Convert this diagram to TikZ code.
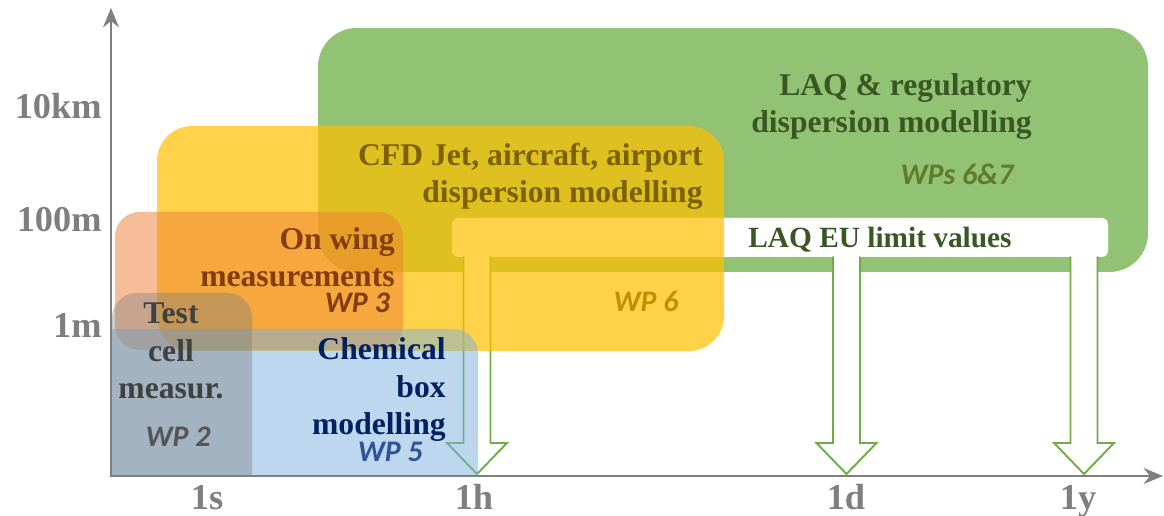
\documentclass[tikz,border=0pt]{standalone}
\usepackage{fontspec}
\setmainfont{Liberation Serif}
\newfontfamily\wpfont{Carlito}
\usepackage{xcolor}
\usepackage{tikz}
\usetikzlibrary{arrows.meta}

\begin{document}
\begin{tikzpicture}[
      % un'unita' = 0.02cm, asse y rivolto verso il basso
      x=0.02cm,
      y=-0.02cm,
      line join=round,
      line cap=round
  ]

  \useasboundingbox (0,0) rectangle (1164,516);

  % Posizione degli assi
  \def\ax{111}
  \def\ay{476}

  % Palette
  \definecolor{axisgray}{RGB}{127, 127, 127}
  \definecolor{laqfill}{RGB}{146, 195, 116}
  \definecolor{laqtext}{RGB}{56, 87, 35}
  \definecolor{laqwp}{RGB}{96, 122, 46}
  \definecolor{cfdfill}{RGB}{255, 192, 0}
  \definecolor{cfdtext}{RGB}{127, 96, 0}
  \definecolor{cfdwp}{RGB}{191, 144, 0}
  \definecolor{wingfill}{RGB}{237, 125, 49}
  \definecolor{wingtext}{RGB}{132, 60, 12}
  \definecolor{chemfill}{RGB}{123, 175, 221}
  \definecolor{chemtext}{RGB}{0, 32, 96}
  \definecolor{chemwp}{RGB}{47, 85, 151}
  \definecolor{testfill}{RGB}{127, 127, 127}
  \definecolor{testtext}{RGB}{64, 64, 64}
  \definecolor{testwp}{RGB}{85, 85, 85}
  \definecolor{arrowgreen}{RGB}{112, 173, 71}

  \tikzset{
      title/.style={font=\bfseries\fontsize{18}{21.5}\selectfont, inner sep=0pt, align=right},
      wp/.style={font=\wpfont\bfseries\itshape\fontsize{17}{20}\selectfont, inner sep=0pt},
      ticklabel/.style={font=\bfseries\fontsize{20.7}{24}\selectfont, text=axisgray, inner sep=0pt, text depth=0pt},
      axis/.style={draw=axisgray, line width=1.7pt, -{Stealth[length=11pt, width=9pt]}},
      limitarrow/.style={draw=arrowgreen, fill=white, line width=1.1pt, line join=miter}
  }

  % 1. Regioni (tagliate sugli assi)
  \begin{scope}
    \clip (\ax,0) rectangle (1164,\ay);

    \fill[laqfill, rounded corners=22pt] (318,28) rectangle (1148,272);

    % barra dei valori limite e frecce verso le scale temporali
    \fill[white, rounded corners=3.5pt] (452,218) rectangle (1108,257);
    \foreach \t in {477, 846.5, 1084} {
      \filldraw[limitarrow] (\t-13.5,257) -- (\t-13.5,443) -- (\t-30,443) -- (\t,474)
        -- (\t+30,443) -- (\t+13.5,443) -- (\t+13.5,257);
    }

    \fill[cfdfill, fill opacity=0.71, rounded corners=20pt] (157,126) rectangle (724,351);
    \fill[wingfill, fill opacity=0.5, rounded corners=14pt] (115,212) rectangle (403,350);
    \fill[chemfill, fill opacity=0.5, rounded corners=14pt] (90,329) rectangle (478,500);
    \fill[testfill, fill opacity=0.4, rounded corners=14pt] (112,293) rectangle (252,500);
  \end{scope}

  % 2. Assi
  \draw[axis] (\ax,\ay) -- (\ax,8);
  \draw[axis] (\ax,\ay) -- (1163,\ay);

  % Etichette degli assi
  \node[ticklabel, anchor=base east] (l10km) at (102,119) {10km};
  \node[ticklabel, anchor=base east] (l100m) at (102,232) {100m};
  \node[ticklabel, anchor=base east] (l1m)   at (102,338) {1m};
  \node[ticklabel, anchor=base] (t1s) at (207,510) {1s};
  \node[ticklabel, anchor=base] (t1h) at (474,510) {1h};
  \node[ticklabel, anchor=base] (t1d) at (846,510) {1d};
  \node[ticklabel, anchor=base] (t1y) at (1078,510) {1y};

  % 3. Testi delle regioni (base = ultima riga)
  \node[title, text=laqtext, anchor=base east] (laq) at (1032,133)
    {LAQ \& regulatory\\dispersion modelling};
  \node[wp, text=laqwp, anchor=base] (laqwp) at (957,185) {WPs 6\&7};

  \node[title, text=laqtext, anchor=base west, font=\bfseries\fontsize{16.7}{20}\selectfont]
    (limits) at (748,248) {LAQ EU limit values};

  \node[title, text=cfdtext, anchor=base east] (cfd) at (703,203)
    {CFD Jet, aircraft, airport\\dispersion modelling};
  \node[wp, text=cfdwp, anchor=base] (cfdwp) at (646,312) {WP 6};

  \node[title, text=wingtext, anchor=base east] (wing) at (395,287)
    {On wing\\measurements};
  \node[wp, text=wingtext, anchor=base east] (wingwp) at (390,313) {WP 3};

  \node[title, text=testtext, anchor=base, align=center] (test) at (171,399)
    {Test\\cell\\measur.};
  \node[wp, text=testwp, anchor=base] (testwp) at (178,447) {WP 2};

  \node[title, text=chemtext, anchor=base east] (chem) at (446,435)
    {Chemical\\box\\modelling};
  \node[wp, text=chemwp, anchor=base east] (chemwp) at (423,462) {WP 5};

\end{tikzpicture}
\end{document}
